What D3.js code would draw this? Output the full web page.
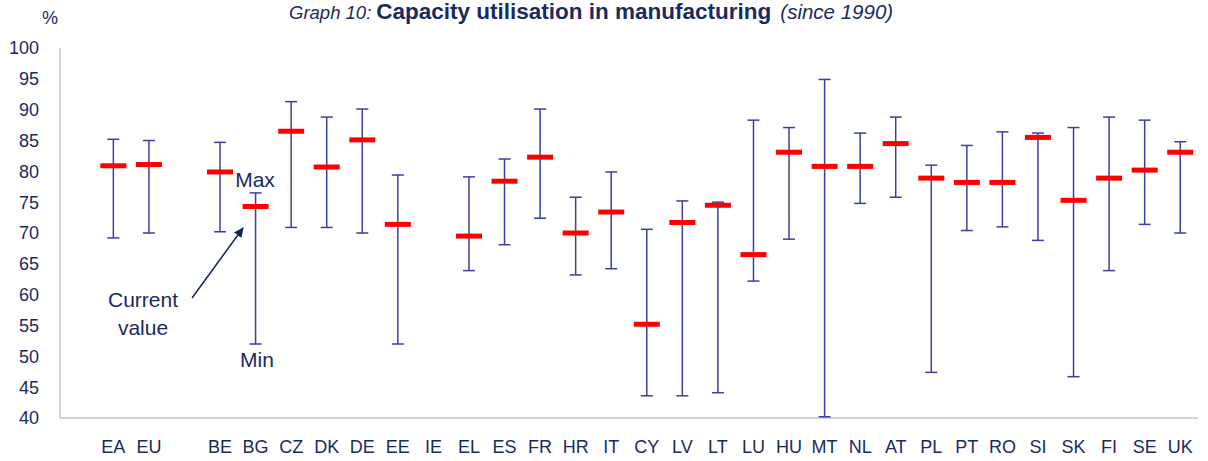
<!DOCTYPE html>
<html>
<head>
<meta charset="utf-8">
<script src="https://cdn.jsdelivr.net/npm/d3@7"></script>
<style>
  body { margin: 0; background: #fff; }
  text { font-family: "Liberation Sans", Arial, sans-serif; fill: #1b2a5e; }
</style>
</head>
<body>
<svg id="chart" width="1208" height="461"></svg>
<script>
// countries (blank slots keep the gaps)
var countries = ["", "EA", "EU", "", "BE", "BG", "CZ", "DK", "DE", "EE", "IE", "EL", "ES", "FR", "HR", "IT",
  "CY", "LV", "LT", "LU", "HU", "MT", "NL", "AT", "PL", "PT", "RO", "SI", "SK", "FI", "SE", "UK"];
var maxValues = [null, 85.2, 85.0, null, 84.7, 76.5, 91.3, 88.8, 90.1, 79.4, null, 79.1, 82.0, 90.1, 75.8, 79.9,
  70.6, 75.2, 75.0, 88.3, 87.1, 94.9, 86.2, 88.8, 81.0, 84.2, 86.4, 86.2, 87.1, 88.8, 88.3, 84.8];
var minValues = [null, 69.2, 70.0, null, 70.2, 52.0, 70.9, 70.9, 70.0, 52.0, null, 63.9, 68.1, 72.4, 63.2, 64.2,
  43.6, 43.6, 44.1, 62.2, 69.0, 40.2, 74.8, 75.8, 47.4, 70.4, 71.0, 68.8, 46.7, 63.9, 71.4, 70.0];
var currentValues = [null, 80.9, 81.1, null, 79.9, 74.3, 86.5, 80.7, 85.1, 71.4, null, 69.5, 78.4, 82.3, 70.0, 73.4,
  55.2, 71.7, 74.5, 66.5, 83.1, 80.8, 80.8, 84.5, 78.9, 78.2, 78.2, 85.5, 75.3, 78.9, 80.2, 83.1];
var yTicks = [40, 45, 50, 55, 60, 65, 70, 75, 80, 85, 90, 95, 100];

var svg = d3.select('#chart');
var plotLeft = 60, plotRight = 1198, plotTop = 48, plotBottom = 418;

var x = d3.scaleBand().domain(d3.range(countries.length)).range([plotLeft, plotRight]);
var y = d3.scaleLinear().domain([40, 100]).range([plotBottom, plotTop]);

var rows = countries.map(function(c, i) {
  return {name: c, i: i, max: maxValues[i], min: minValues[i], cur: currentValues[i]};
});
function cx(d) { return x(d.i) + x.bandwidth() / 2; }

// axes lines
svg.append('line').attr('x1', plotLeft).attr('x2', plotLeft).attr('y1', plotTop).attr('y2', plotBottom)
  .attr('stroke', '#c4c4c4').attr('stroke-width', 1.5);
svg.append('line').attr('x1', plotLeft).attr('x2', plotRight).attr('y1', plotBottom).attr('y2', plotBottom)
  .attr('stroke', '#c4c4c4').attr('stroke-width', 1.5);

// y tick labels
svg.selectAll('.ytick').data(yTicks).enter().append('text')
  .attr('x', 39).attr('y', function(d) { return y(d); })
  .attr('dy', '0.36em').attr('text-anchor', 'end')
  .style('font-size', '18px').text(function(d) { return d; });

svg.append('text').attr('x', 50).attr('y', 24).attr('text-anchor', 'middle')
  .style('font-size', '18px').text('%');

// x labels
svg.selectAll('.xlab').data(rows).enter().append('text')
  .attr('x', cx).attr('y', 453).attr('text-anchor', 'middle')
  .style('font-size', '18px').text(function(d) { return d.name; });

var bars = rows.filter(function(d) { return d.max != null; });
var capW = 6, markW = 13;
var blue = '#3b3f9e';

var g = svg.append('g');
g.selectAll('.whisker').data(bars).enter().append('line')
  .attr('x1', cx).attr('x2', cx)
  .attr('y1', function(d) { return y(d.max); })
  .attr('y2', function(d) { return y(d.min); })
  .attr('stroke', blue).attr('stroke-width', 1.5);
['max', 'min'].forEach(function(k) {
  g.selectAll('.cap-' + k).data(bars).enter().append('line')
    .attr('x1', function(d) { return cx(d) - capW; })
    .attr('x2', function(d) { return cx(d) + capW; })
    .attr('y1', function(d) { return y(d[k]); })
    .attr('y2', function(d) { return y(d[k]); })
    .attr('stroke', blue).attr('stroke-width', 1.5);
});
g.selectAll('.cur').data(bars).enter().append('rect')
  .attr('x', function(d) { return cx(d) - markW; })
  .attr('y', function(d) { return y(d.cur) - 2.5; })
  .attr('width', markW * 2).attr('height', 5)
  .attr('fill', '#ff0000');

// title
var title = svg.append('text').attr('x', 289).attr('y', 19);
title.append('tspan').style('font-style', 'italic').style('font-size', '18.5px').text('Graph 10:');
title.append('tspan').attr('dx', 5).style('font-weight', 'bold').style('font-size', '22.5px')
  .text('Capacity utilisation in manufacturing');
title.append('tspan').attr('dx', 9).style('font-style', 'italic').style('font-size', '20.5px').text('(since 1990)');

// annotations
svg.append('text').attr('x', 255).attr('y', 187).attr('text-anchor', 'middle')
  .style('font-size', '21px').text('Max');
svg.append('text').attr('x', 257).attr('y', 367).attr('text-anchor', 'middle')
  .style('font-size', '21px').text('Min');
svg.append('text').attr('x', 143).attr('y', 307).attr('text-anchor', 'middle')
  .style('font-size', '21px').text('Current');
svg.append('text').attr('x', 143).attr('y', 335).attr('text-anchor', 'middle')
  .style('font-size', '21px').text('value');

svg.append('defs').append('marker').attr('id', 'arrow')
  .attr('viewBox', '0 0 10 10').attr('refX', 9).attr('refY', 5)
  .attr('markerWidth', 10).attr('markerHeight', 10).attr('orient', 'auto')
  .attr('markerUnits', 'userSpaceOnUse')
  .append('path').attr('d', 'M0,0.5 L10,5 L0,9.5 Z').attr('fill', '#0f2354');
// arrow from the label up to the BG current marker
svg.append('line').attr('x1', 192).attr('y1', 298).attr('x2', 243).attr('y2', 228)
  .attr('stroke', '#0f2354').attr('stroke-width', 1.5).attr('marker-end', 'url(#arrow)');
</script>
</body>
</html>
